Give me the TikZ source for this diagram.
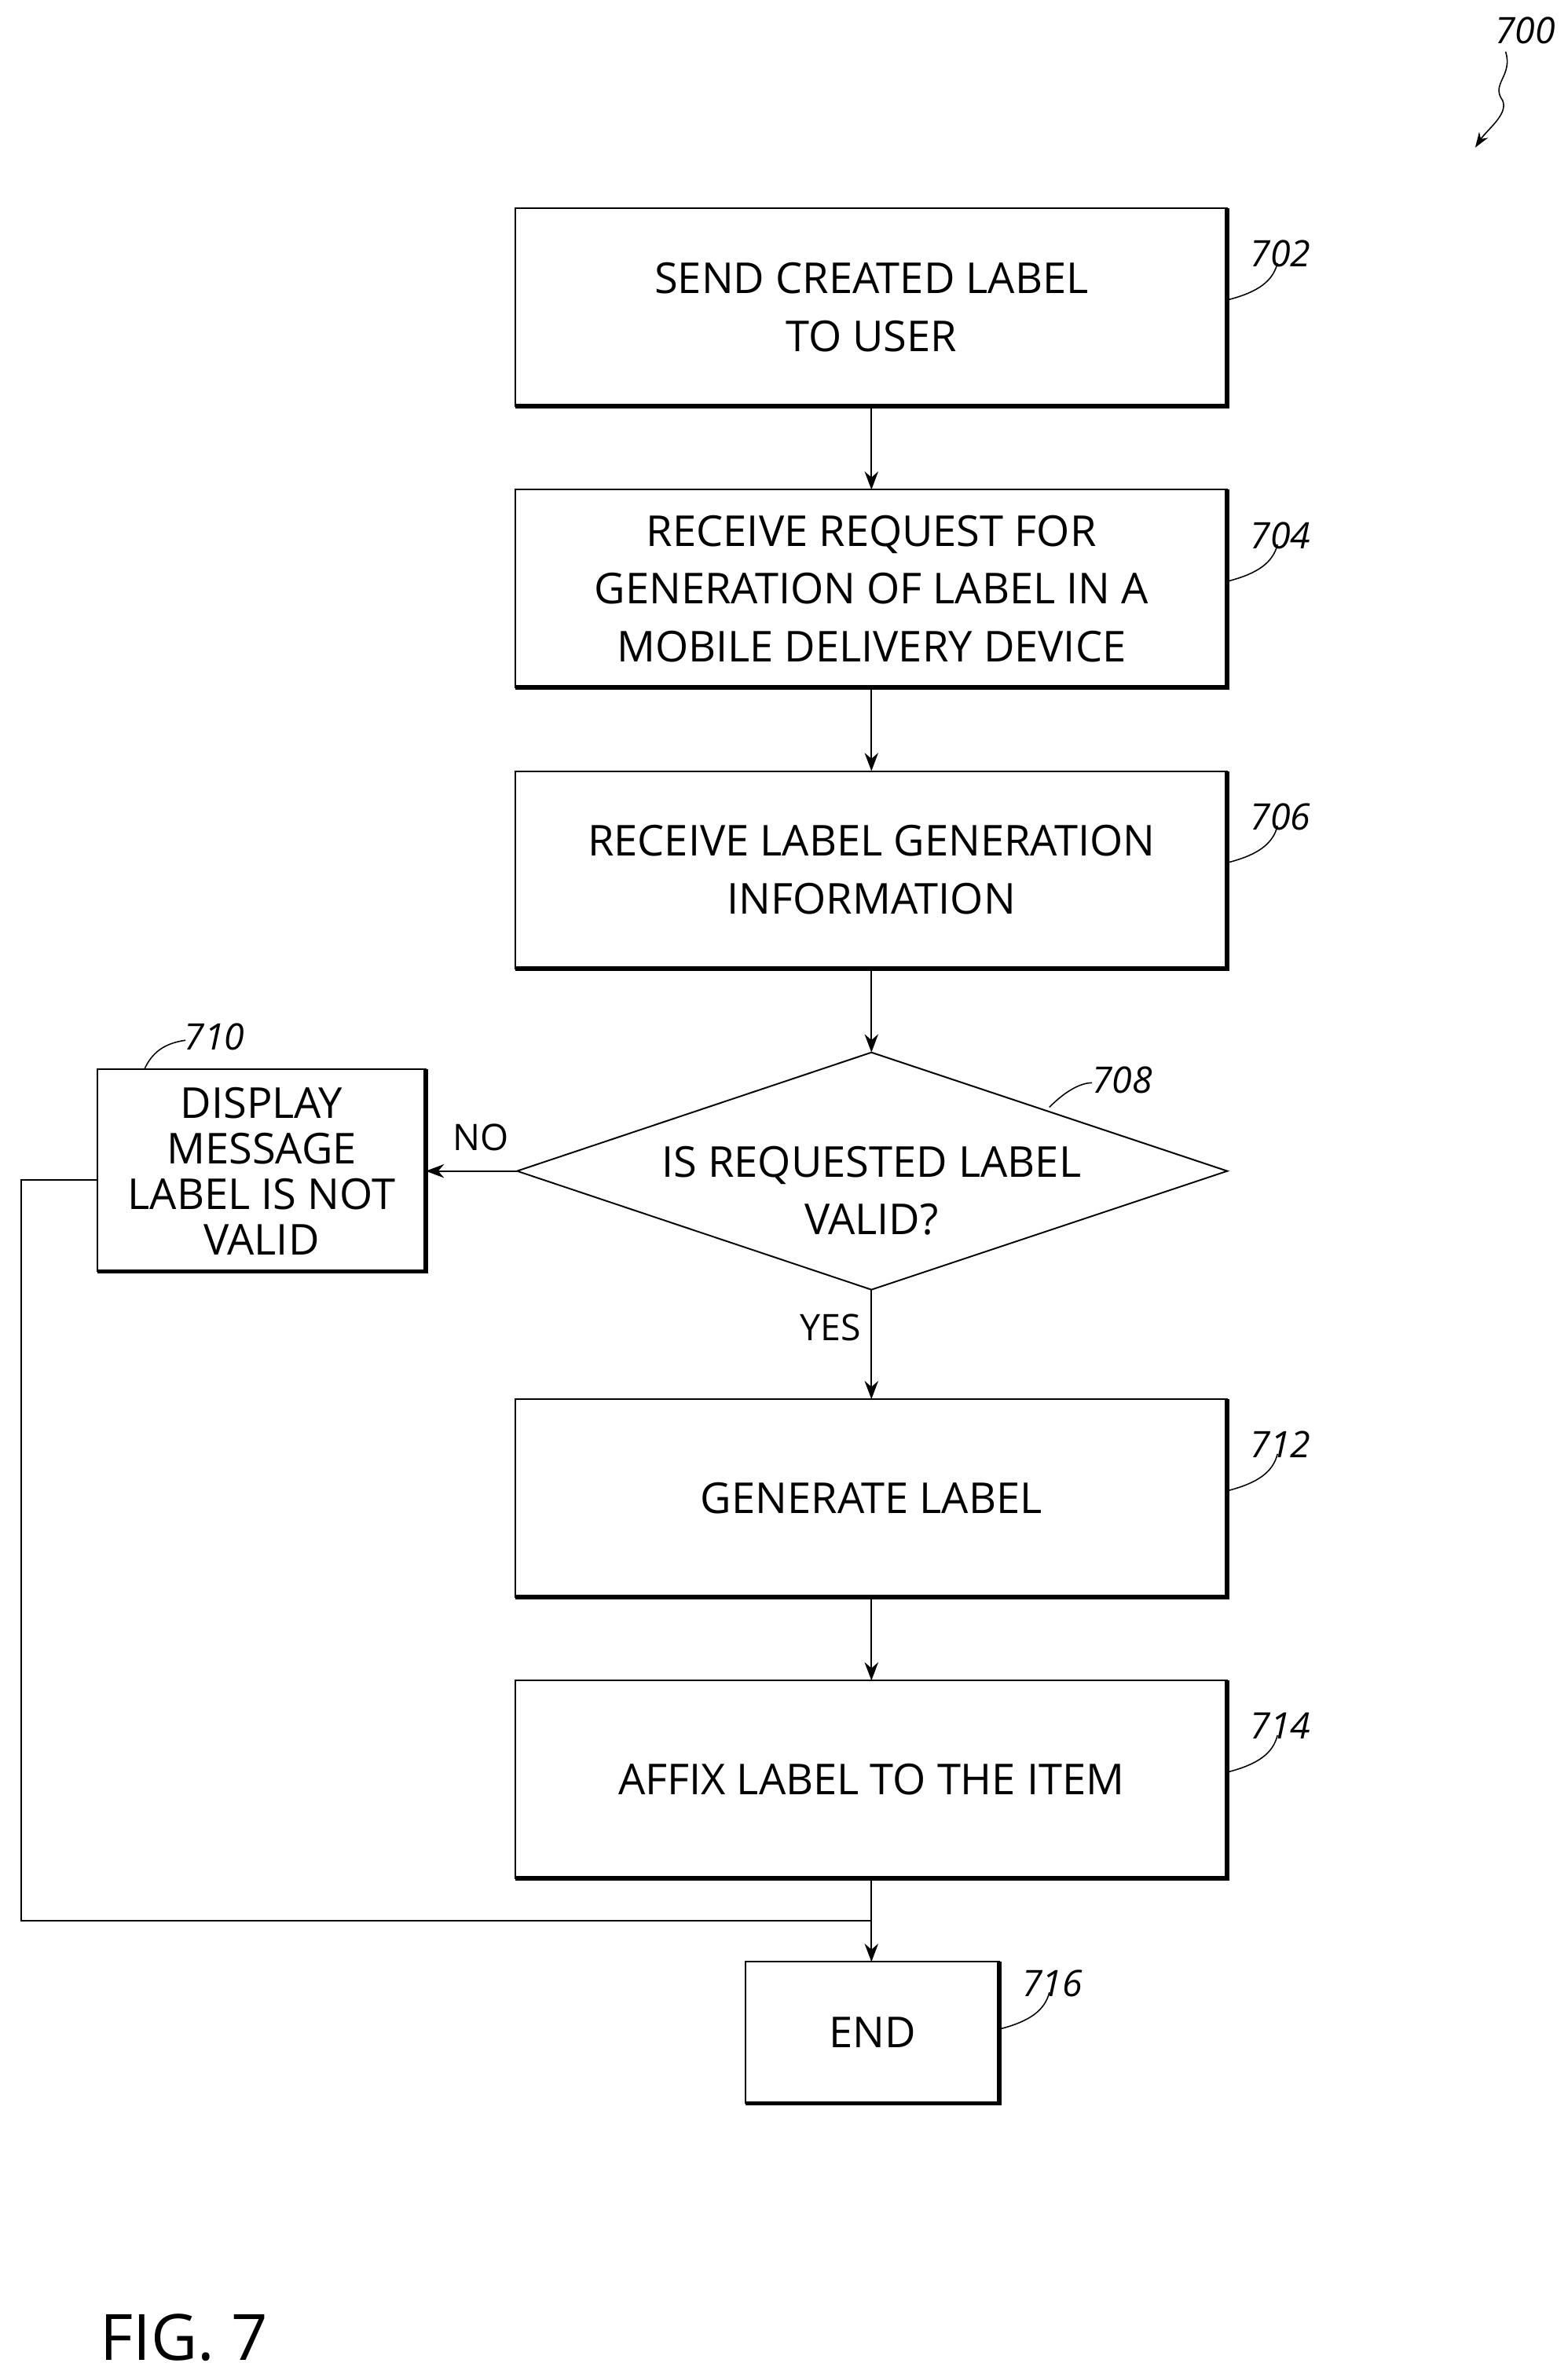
\documentclass[tikz,border=0pt]{standalone}
\usepackage{fontspec}
\setmainfont{Open Sans}
\usetikzlibrary{arrows.meta,shapes.geometric}
\begin{document}
\begin{tikzpicture}[x=1pt,y=-1pt,
  txt/.style={font=\fontsize{28}{38}\selectfont,align=center},
  ref/.style={font=\itshape\fontsize{24}{26}\selectfont},
  lead/.style={line width=0.8pt},
  arr/.style={line width=1pt,-{Stealth[length=12pt,width=9pt]}},
  ln/.style={line width=1pt}]
\useasboundingbox (0,0) rectangle (1031,1561);
\newcommand{\bx}[6]{% name, x1,y1,x2,y2,text
  \draw[line width=1pt] (#2,#3) rectangle (#4,#5);
  \draw[line width=3pt] (#2,#5) -- (#4,#5) -- (#4,#3);
  \node[txt,minimum width=#4pt-#2pt,minimum height=#5pt-#3pt] (#1) at ({(#2+#4)/2},{(#3+#5)/2}) {#6};}
\bx{b702}{339}{137}{807}{267}{SEND CREATED LABEL\\TO USER}
\bx{b704}{339}{322}{807}{452}{RECEIVE REQUEST FOR\\GENERATION OF LABEL IN A\\MOBILE DELIVERY DEVICE}
\bx{b706}{339}{507}{807}{637}{RECEIVE LABEL GENERATION\\INFORMATION}
\bx{b712}{339}{920}{807}{1050}{GENERATE LABEL}
\bx{b714}{339}{1105}{807}{1235}{AFFIX LABEL TO THE ITEM}
\bx{b716}{490}{1290}{657}{1383}{END}
\draw[line width=1pt] (64,703) rectangle (280,836);
\draw[line width=3pt] (64,836) -- (280,836) -- (280,703);
\node[txt,font=\fontsize{28}{30}\selectfont] (b710) at (172,770) {DISPLAY\\MESSAGE\\LABEL IS NOT\\VALID};
\coordinate (b710w) at (64,776);\coordinate (b710e) at (280,770);
\draw[line width=1pt] (340,770) coordinate (dl) -- (573,692) coordinate (dt) -- (807,770) coordinate (dr) -- (573,848) coordinate (db) -- cycle;
\node[txt] (d708) at (573,783) {IS REQUESTED LABEL\\VALID?};
\draw[arr] (573,267) -- (573,322);
\draw[arr] (573,452) -- (573,507);
\draw[arr] (573,637) -- (dt);
\draw[arr] (db) -- (573,920);
\draw[arr] (573,1050) -- (573,1105);
\draw[arr] (573,1235) -- (573,1290);
\draw[arr] (dl) -- (b710e);
\draw[ln] (b710w) -- (14,776) -- (14,1263) -- (573,1263);
\node[txt,font=\fontsize{24}{26}\selectfont] (no) at (316,748) {NO};
\node[txt,font=\fontsize{24}{26}\selectfont] (yes) at (546,873) {YES};
\foreach \n/\x/\y in {702/807/200,704/807/385,706/807/570,712/807/983,714/807/1168,716/657/1337}{
  \node[ref] (r\n) at (\x+35,\y-33) {\n};
  \draw[lead] (\x+1,\y-3) .. controls (\x+20,\y-8) and (\x+30,\y-15) .. (\x+33,\y-27);}
\node[ref] (r710) at (141,682) {710};
\draw[lead] (95,703) .. controls (100,692) and (108,686) .. (122,684);
\node[ref] (r708) at (738,710) {708};
\draw[lead] (690,728) .. controls (700,718) and (710,712) .. (718,712);
\node[ref] (r700) at (1003,20) {700};
\coordinate (a700) at (970,97);
\draw[lead,-{Stealth[length=10pt,width=7pt]}] (990,34) .. controls (995,50) and (980,55) .. (988,66) .. controls (992,75) and (978,85) .. (a700);
\node[font=\fontsize{42}{44}\selectfont] (fig) at (121,1537) {FIG. 7};
\end{tikzpicture}
\end{document}
